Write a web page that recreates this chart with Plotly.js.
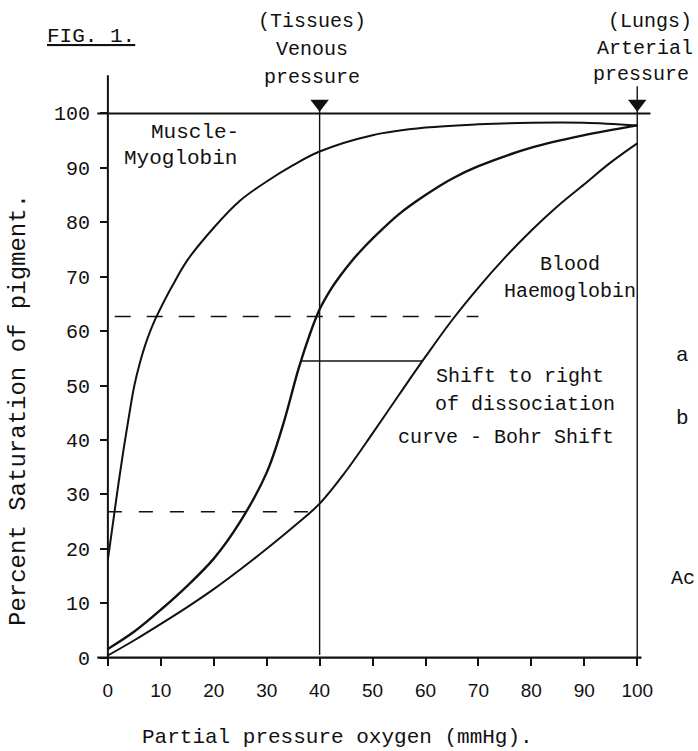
<!DOCTYPE html>
<html>
<head>
<meta charset="utf-8">
<script src="https://cdn.plot.ly/plotly-3.0.1.min.js"></script>
<style>html,body{margin:0;padding:0;background:#fff;}#chart{width:698px;height:751px;}</style>
</head>
<body>
<div id="chart"></div>
<script>
// ---- Data ----
// Partial pressure of oxygen (mmHg) and percent saturation
const myoPO2 = [0, 1, 2, 3, 4, 5, 6, 7, 8, 9, 10, 12, 15, 20, 25, 30, 35, 40, 50, 60, 70, 80, 90, 100];
const myoSat = [18, 25, 32, 38.5, 44.5, 50, 54, 57.3, 60, 62.3, 64.3, 68, 73, 79, 84, 87.5, 90.5, 93, 96, 97.4, 98, 98.3, 98.3, 97.8];

const hbPO2 = [0, 5, 10, 15, 20, 25, 30, 33, 36, 38, 40, 42, 44, 46, 48, 50, 55, 60, 65, 70, 80, 90, 100];
const hbSat = [1.6, 4.8, 8.8, 13.2, 18.2, 25, 34, 42.5, 53, 59, 64, 67.5, 70.3, 72.8, 75, 77, 81.5, 85, 88, 90.3, 93.7, 96, 97.8];

const bohrPO2 = [0, 5, 10, 15, 20, 25, 30, 35, 40, 45, 50, 55, 60, 65, 70, 75, 80, 85, 90, 95, 100];
const bohrSat = [0.4, 3.2, 6.2, 9.3, 12.6, 16.2, 20, 24, 28.3, 34.3, 41.2, 48.3, 55.3, 62, 68, 73.5, 78.5, 83, 87, 91, 94.5];

// reference pressures and saturations
const venousPO2 = 40;
const arterialPO2 = 100;
const satAtVenousNormal = 62.7;   // upper dashed line
const satAtVenousShifted = 26.8;  // lower dashed line
const shiftSat = 54.5;            // "shift to right" connector
const shiftFromPO2 = 36.5;
const shiftToPO2 = 59.5;
const upperDashEnd = 70;

const xTickVals = [0, 10, 20, 30, 40, 50, 60, 70, 80, 90, 100];
const xTickText = ['0', '10', '20', '30', '40', '50', '60', '70', '80', '90', '100'];
const yTickVals = [0, 10, 20, 30, 40, 50, 60, 70, 80, 90, 100];
const yTickText = ['0', '10', '20', '30', '40', '50', '60', '70', '80', '90', '100'];

// ---- Layout geometry ----
const W = 698, H = 751;
const M = {l: 92, r: 29, t: 59, b: 77};
const XR = [-3, 106], YR = [-3, 110];
const PW = W - M.l - M.r, PH = H - M.t - M.b;
const px = x => (x - M.l) / PW;          // pixel -> paper x
const py = y => (H - M.b - y) / PH;      // pixel -> paper y

const MONO = 'Liberation Mono, Courier New, monospace';
const black = '#111';

const curveLine = w => ({color: black, width: w, shape: 'spline', smoothing: 1});

const traces = [
  {x: myoPO2, y: myoSat, mode: 'lines', line: curveLine(2), name: 'Muscle myoglobin', hoverinfo: 'x+y'},
  {x: hbPO2, y: hbSat, mode: 'lines', line: curveLine(2.4), name: 'Blood haemoglobin', hoverinfo: 'x+y'},
  {x: bohrPO2, y: bohrSat, mode: 'lines', line: curveLine(2), name: 'Bohr shift', hoverinfo: 'x+y'},
  {x: [venousPO2, arterialPO2], y: [101.8, 101.8], mode: 'markers',
   marker: {symbol: 'triangle-down', size: 16, color: black}, hoverinfo: 'skip', name: 'pressures'}
];

const thin = {color: black, width: 1.4};
const shapes = [
  // axis lines
  {type: 'line', xref: 'x', yref: 'y', x0: 0, x1: 0, y0: -0.5, y1: 107, line: {color: black, width: 2}},
  {type: 'line', xref: 'x', yref: 'y', x0: -2, x1: 100.8, y0: 0, y1: 0, line: {color: black, width: 2.2}},
  // 100 % line
  {type: 'line', xref: 'x', yref: 'y', x0: -2, x1: 102.5, y0: 100, y1: 100, line: {color: black, width: 2}},
  // venous and arterial pressure verticals
  {type: 'line', xref: 'x', yref: 'y', x0: venousPO2, x1: venousPO2, y0: 0.5, y1: 101, line: thin},
  {type: 'line', xref: 'x', yref: 'y', x0: arterialPO2, x1: arterialPO2, y0: 0, y1: 105, line: thin},
  // dashed saturation levels
  {type: 'line', xref: 'x', yref: 'y', x0: 1.3, x1: upperDashEnd, y0: satAtVenousNormal, y1: satAtVenousNormal,
   line: {color: black, width: 1.4, dash: '16px,16px'}},
  {type: 'line', xref: 'x', yref: 'y', x0: 0, x1: venousPO2, y0: satAtVenousShifted, y1: satAtVenousShifted,
   line: {color: black, width: 1.6, dash: '14px,17px'}},
  // shift connector
  {type: 'line', xref: 'x', yref: 'y', x0: shiftFromPO2, x1: shiftToPO2, y0: shiftSat, y1: shiftSat, line: thin}
];

const txt = (text, x, y, size, opts) => Object.assign({
  text: text, x: x, y: y, xref: 'x', yref: 'y', showarrow: false,
  font: {family: MONO, size: size, color: black}, xanchor: 'center', yanchor: 'middle'
}, opts || {});
const ptxt = (text, x, y, size, opts) => txt(text, px(x), py(y), size, Object.assign({xref: 'paper', yref: 'paper'}, opts || {}));

const annotations = [
  ptxt('<span style="text-decoration:underline">FIG. 1.</span>', 91, 37, 21),
  ptxt('(Tissues)', 312, 21, 20),
  ptxt('Venous', 312, 50, 20),
  ptxt('pressure', 312, 77, 20),
  ptxt('(Lungs)', 650, 21, 20),
  ptxt('Arterial', 645, 48, 20),
  ptxt('pressure', 641, 75, 20),
  txt('Muscle-', 16.4, 96.5, 21),
  txt('Myoglobin', 13.8, 91.7, 21),
  txt('Blood', 87.3, 72.3, 20),
  txt('Haemoglobin', 87.3, 67.2, 20),
  txt('Shift to right', 77.9, 51.6, 20),
  txt('of dissociation', 78.8, 46.5, 20),
  txt('curve - Bohr Shift', 75.2, 40.4, 20),
  ptxt('a', 682, 355, 21),
  ptxt('b', 682, 418, 21),
  ptxt('Ac', 697, 578, 20, {xanchor: 'right'}),
  ptxt('Percent Saturation of pigment.', 18, 410, 24, {textangle: -90}),
  ptxt('Partial pressure oxygen (mmHg).', 337, 737, 21)
];

const layout = {
  width: W, height: H,
  margin: {l: M.l, r: M.r, t: M.t, b: M.b, pad: 0},
  paper_bgcolor: '#fff', plot_bgcolor: '#fff',
  showlegend: false,
  xaxis: {
    range: XR, showgrid: false, zeroline: false, showline: false,
    tickmode: 'array', tickvals: xTickVals, ticktext: xTickText,
    ticks: 'outside', ticklen: 8, tickwidth: 2, tickcolor: black,
    anchor: 'free', position: py(657),
    tickfont: {family: 'Liberation Sans, Arial, sans-serif', size: 19, color: black},
    ticklabelstandoff: 8, fixedrange: true
  },
  yaxis: {
    range: YR, showgrid: false, zeroline: false, showline: false,
    tickmode: 'array', tickvals: yTickVals, ticktext: yTickText,
    ticks: 'outside', ticklen: 8, tickwidth: 2, tickcolor: black,
    anchor: 'free', position: px(108),
    tickfont: {family: MONO, size: 20, color: black},
    ticklabelstandoff: 6, fixedrange: true
  },
  shapes: shapes,
  annotations: annotations
};

Plotly.newPlot('chart', traces, layout, {staticPlot: true, displayModeBar: false});
</script>
</body>
</html>
